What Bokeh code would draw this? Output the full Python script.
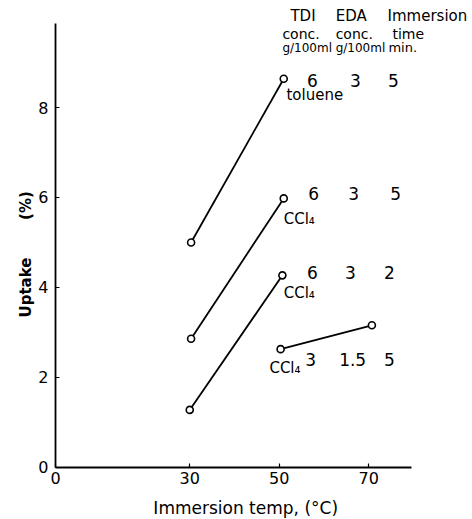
import math
from bokeh.plotting import figure
from bokeh.models import Label, FixedTicker, Range1d
from bokeh.embed import file_html
from bokeh.resources import INLINE

# --- data ---
series_temp = [[30.3, 51.0], [30.3, 51.0], [30.0, 50.7], [50.3, 70.7]]
series_uptake = [[5.0, 8.64], [2.86, 5.98], [1.28, 4.27], [2.63, 3.16]]
solvents = ["toluene", "CCl\u2084", "CCl\u2084", "CCl\u2084"]
tdi_conc = ["6", "6", "6", "3"]
eda_conc = ["3", "3", "3", "1.5"]
imm_time = ["5", "5", "2", "5"]
x_ticks = [0, 30, 50, 70]
y_ticks = [0, 2, 4, 6, 8]

FONT = "DejaVu Sans"

p = figure(width=472, height=519, output_backend="svg", toolbar_location=None,
           x_range=Range1d(-12.29, 93.18), y_range=Range1d(-1.156, 10.378),
           min_border=0)
p.grid.visible = False
p.outline_line_color = None
p.background_fill_color = "white"
p.border_fill_color = "white"

for ax in (p.xaxis, p.yaxis):
    ax.fixed_location = 0
    ax.axis_line_width = 1.8
    ax.axis_line_color = "black"
    ax.major_tick_in = 4
    ax.major_tick_out = 0
    ax.minor_tick_line_color = None
    ax.major_tick_line_color = "black"
    ax.major_tick_line_width = 1.2
    ax.major_label_text_font = FONT
    ax.major_label_text_font_size = "16px"
    ax.major_label_text_color = "black"
p.xaxis.ticker = FixedTicker(ticks=x_ticks)
p.yaxis.ticker = FixedTicker(ticks=y_ticks)
p.xaxis.bounds = (0, 79.5)
p.yaxis.bounds = (0, 9.87)
p.xaxis.major_label_standoff = 5
p.yaxis.major_label_standoff = 7

for xs, ys in zip(series_temp, series_uptake):
    p.line(xs, ys, line_color="black", line_width=1.8)
    p.scatter(xs, ys, size=7, marker="circle", fill_color="white",
              line_color="black", line_width=1.6)

def lab(x, y, t, size="16px", align="left", weight="normal", angle=0.0):
    p.add_layout(Label(x=x, y=y, text=t, text_font=FONT, text_font_size=size,
                       text_align=align, text_baseline="middle",
                       text_font_style=weight, text_color="black", angle=angle))

# header
lab(52.5, 10.04, "TDI", "15px")
lab(62.6, 10.04, "EDA", "15px")
lab(74.2, 10.04, "Immersion", "15px")
lab(50.7, 9.64, "conc.", "14px")
lab(62.6, 9.64, "conc.", "14px")
lab(75.3, 9.64, "time", "14px")
lab(50.7, 9.33, "g/100ml", "12px")
lab(62.6, 9.33, "g/100ml", "12px")
lab(74.4, 9.33, "min.", "13px")

# condition numbers
num_y = [8.6, 6.09, 4.33, 2.4]
tdi_x = [57.4, 57.7, 57.4, 57.0]
eda_x = [67.0, 66.6, 65.9, 66.4]
time_x = [75.5, 76.0, 74.6, 74.6]
for i in range(4):
    lab(tdi_x[i], num_y[i], tdi_conc[i], "17px", "center")
    lab(eda_x[i], num_y[i], eda_conc[i], "17px", "center")
    lab(time_x[i], num_y[i], imm_time[i], "17px", "center")

# solvent labels
sol_x = [51.6, 51.0, 51.0, 47.8]
sol_y = [8.27, 5.53, 3.87, 2.2]
for i in range(4):
    lab(sol_x[i], sol_y[i], solvents[i], "15px")

# axis titles
lab(42.5, -0.91, "Immersion temp, (\u00b0C)", "17px", "center")
lab(-6.7, 4.0, "Uptake", "15px", "center", "bold", math.pi / 2)
lab(-6.7, 5.82, "(%)", "15px", "center", "bold", math.pi / 2)

open("out.html", "w").write(file_html(p, INLINE))
